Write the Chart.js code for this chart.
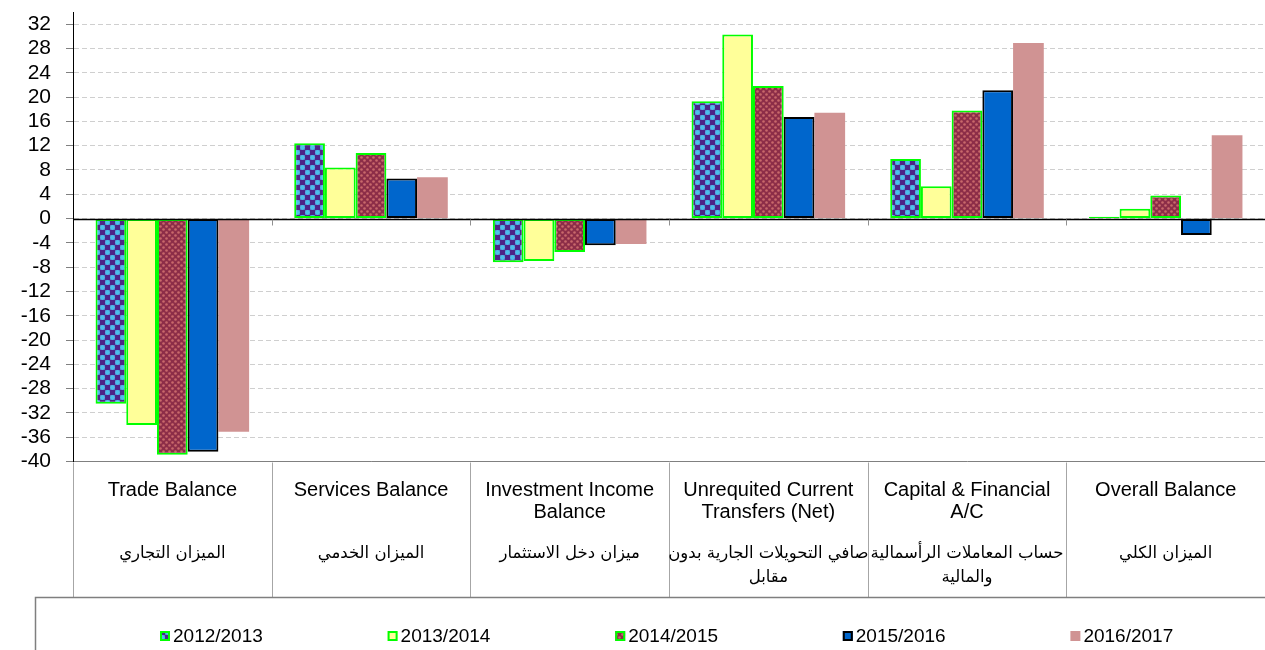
<!DOCTYPE html>
<html>
<head>
<meta charset="utf-8">
<title>Balance of Payments</title>
<script src="https://cdn.jsdelivr.net/npm/chart.js@4.4.0/dist/chart.umd.min.js"></script>
<style>
  html, body { margin: 0; padding: 0; background: #fff; }
  #wrap { width: 1265px; height: 650px; }
</style>
</head>
<body>
<div id="wrap"><canvas id="myChart"></canvas></div>
<script>
// categories (english lines / arabic lines)
var englishLabels = [
  ['Trade Balance'],
  ['Services Balance'],
  ['Investment Income', 'Balance'],
  ['Unrequited Current', 'Transfers (Net)'],
  ['Capital & Financial', 'A/C'],
  ['Overall Balance']
];
var arabicLabels = [
  ['الميزان التجاري'],
  ['الميزان الخدمي'],
  ['ميزان دخل الاستثمار'],
  ['صافي التحويلات الجارية بدون', 'مقابل'],
  ['حساب المعاملات الرأسمالية', 'والمالية'],
  ['الميزان الكلي']
];

var years = ['2012/2013', '2013/2014', '2014/2015', '2015/2016', '2016/2017'];

// values
var values2012 = [-30.5, 12.4, -7.2, 19.3, 9.8, 0.3];
var values2013 = [-34.0, 8.4, -7.0, 30.3, 5.3, 1.6];
var values2014 = [-38.9, 10.8, -5.5, 21.8, 17.8, 3.8];
var values2015 = [-38.4, 6.6, -4.4, 16.7, 21.1, -2.7];
var values2016 = [-35.1, 6.8, -4.2, 17.4, 28.9, 13.7];

// y axis ticks
var yMin = -40;
var yMax = 34;
var yTicks = [-40, -36, -32, -28, -24, -20, -16, -12, -8, -4, 0, 4, 8, 12, 16, 20, 24, 28, 32];

var FONT = '"Liberation Sans", Arial, sans-serif';

// little fill patterns like the excel ones
function makePattern(size, draw) {
  var cv = document.createElement('canvas');
  cv.width = size; cv.height = size;
  var p = cv.getContext('2d');
  draw(p);
  return document.getElementById('myChart').getContext('2d').createPattern(cv, 'repeat');
}

var checkPattern = makePattern(10, function (p) {
  p.fillStyle = '#5a6cc4';
  p.fillRect(0, 0, 10, 10);
  p.fillStyle = '#4d2587';
  p.fillRect(0, 0, 5, 5);
  p.fillRect(5, 5, 5, 5);
  p.fillStyle = '#4cc0ea';
  p.beginPath(); p.arc(7.5, 2.5, 2.4, 0, Math.PI * 2); p.fill();
  p.beginPath(); p.arc(2.5, 7.5, 2.4, 0, Math.PI * 2); p.fill();
});

var dotPattern = makePattern(6, function (p) {
  p.fillStyle = '#8c2d48';
  p.fillRect(0, 0, 6, 6);
  p.fillStyle = '#c8696b';
  p.beginPath(); p.arc(1.5, 1.5, 1.3, 0, Math.PI * 2); p.fill();
  p.beginPath(); p.arc(4.5, 4.5, 1.3, 0, Math.PI * 2); p.fill();
});

// separators, zero line, arabic labels and the boxed legend
var extras = {
  id: 'extras',
  afterDatasetsDraw: function (chart) {
    var c = chart.ctx, xs = chart.scales.x, ys = chart.scales.y;
    var y0 = Math.round(ys.getPixelForValue(0)) + 0.5;
    var n = chart.data.labels.length, w = xs.width / n;
    c.save();
    c.strokeStyle = '#000';
    c.lineWidth = 1.3;
    c.beginPath(); c.moveTo(xs.left, y0); c.lineTo(xs.right, y0); c.stroke();
    c.strokeStyle = '#909090';
    c.lineWidth = 1;
    for (var i = 1; i < n; i++) {
      var x = Math.round(xs.left + i * w) + 0.5;
      c.beginPath(); c.moveTo(x, y0); c.lineTo(x, y0 + 6); c.stroke();
    }
    c.restore();
  },
  afterDraw: function (chart) {
    var c = chart.ctx, xs = chart.scales.x;
    var n = chart.data.labels.length, w = xs.width / n;
    var bottom = chart.chartArea.bottom;
    c.save();
    c.strokeStyle = '#a6a6a6';
    c.lineWidth = 1;
    for (var i = 0; i <= n; i++) {
      var x = Math.round(xs.left + i * w) + 0.5;
      c.beginPath(); c.moveTo(x, bottom + 1); c.lineTo(x, 597); c.stroke();
    }
    // arabic lines under the english labels
    c.fillStyle = '#000';
    c.font = '16.5px "DejaVu Sans", sans-serif';
    c.textAlign = 'center';
    c.textBaseline = 'middle';
    arabicLabels.forEach(function (lines, k) {
      var cx = xs.getPixelForValue(k);
      lines.forEach(function (t, j) {
        c.fillText(t, cx, 554 + j * 24);
      });
    });
    // legend frame
    c.strokeStyle = '#7f7f7f';
    c.lineWidth = 1.5;
    c.beginPath();
    c.moveTo(35.5, 650); c.lineTo(35.5, 597.5); c.lineTo(chart.width, 597.5);
    c.stroke();
    // legend items
    c.font = '19px ' + FONT;
    c.textAlign = 'left';
    chart.data.datasets.forEach(function (ds, k) {
      var x = 160 + k * 227.6, y = 636;
      c.fillStyle = ds.backgroundColor;
      c.fillRect(x, y - 5, 10, 10);
      if (ds.borderWidth) {
        c.strokeStyle = ds.borderColor;
        c.lineWidth = 2;
        c.strokeRect(x + 1, y - 4, 8, 8);
      }
      c.fillStyle = '#000';
      c.fillText(ds.label, x + 13, y + 1);
    });
    c.restore();
  }
};

var ctx = document.getElementById('myChart').getContext('2d');
var myChart = new Chart(ctx, {
  type: 'bar',
  data: {
    labels: englishLabels,
    datasets: [
      { label: years[0], data: values2012, backgroundColor: checkPattern, borderColor: '#00ff00', borderWidth: 2 },
      { label: years[1], data: values2013, backgroundColor: '#ffff99', borderColor: '#00ff00', borderWidth: 2 },
      { label: years[2], data: values2014, backgroundColor: dotPattern, borderColor: '#00ff00', borderWidth: 2 },
      { label: years[3], data: values2015, backgroundColor: '#0066cc', borderColor: '#000000', borderWidth: 2 },
      { label: years[4], data: values2016, backgroundColor: '#d09393', borderColor: '#d09393', borderWidth: 0 }
    ]
  },
  options: {
    responsive: true,
    maintainAspectRatio: false,
    animation: false,
    devicePixelRatio: 1,
    layout: { padding: { top: 12, left: 0, right: 0, bottom: 0 } },
    datasets: {
      bar: { barPercentage: 1, categoryPercentage: 0.773, borderSkipped: false }
    },
    plugins: {
      legend: { display: false },
      tooltip: { enabled: false }
    },
    scales: {
      x: {
        grid: { display: false, drawTicks: false },
        border: { display: true, color: '#808080', width: 1 },
        ticks: {
          color: '#000',
          padding: 18,
          maxRotation: 0,
          autoSkip: false,
          font: { family: FONT, size: 20, lineHeight: 1.1 }
        },
        afterFit: function (s) { s.height = 188.5; s.paddingLeft = 0; s.paddingRight = 0; }
      },
      y: {
        min: yMin,
        max: yMax,
        afterBuildTicks: function (s) {
          s.ticks = yTicks.map(function (v) { return { value: v }; });
        },
        ticks: {
          autoSkip: false,
          color: '#000',
          padding: 15,
          font: { family: FONT, size: 21 }
        },
        grid: {
          color: '#cfcfcf',
          tickColor: '#808080',
          tickLength: 7,
          tickBorderDash: []
        },
        border: { color: '#000', width: 1, dash: [5, 3] },
        afterFit: function (s) { s.width = 73; s.paddingTop = 0; s.paddingBottom = 0; }
      }
    }
  },
  plugins: [extras]
});
</script>
</body>
</html>
